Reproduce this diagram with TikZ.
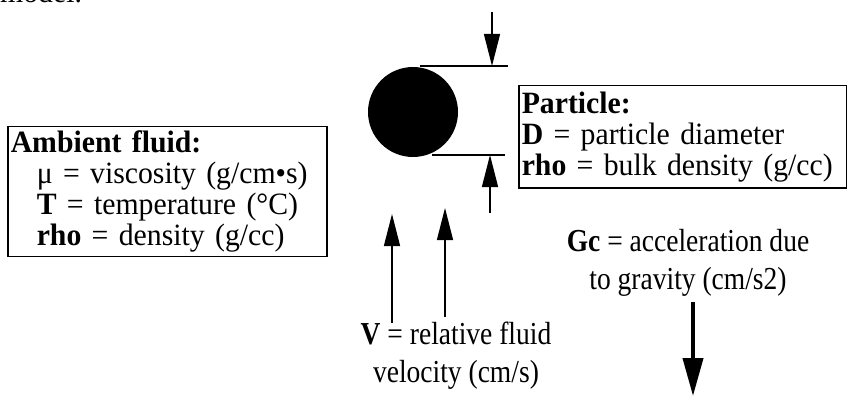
\documentclass[tikz,border=0pt]{standalone}
\usepackage{fontspec}
\setmainfont[FakeStretch=0.96]{Liberation Serif}
\newfontfamily\labfont[FakeStretch=0.86]{Liberation Serif}
\usetikzlibrary{arrows.meta}
\tikzstyle{infobox} = [rectangle, draw=black, line width=1.5pt, anchor=north west, align=left, inner xsep=3pt, inner ysep=3pt]
\tikzstyle{note} = [align=center, inner sep=0pt, font=\labfont\fontsize{32}{38}\selectfont]
\tikzstyle{thinarrow} = [line width=1.3pt, -{Triangle[length=32pt,width=16pt]}]
\tikzstyle{fatarrow} = [line width=4pt, -{Triangle[length=38pt,width=20pt]}]
\tikzstyle{dimline} = [line width=1.3pt]

\begin{document}
\begin{tikzpicture}[x=1pt, y=-1pt, font=\fontsize{31}{31}\selectfont]
      \useasboundingbox (0,0) rectangle (847,396);
      \clip (0,0) rectangle (847,396);
      % line of the page above, cut off
      \node (cut)[anchor=base west, inner sep=0pt] at (0,3) {model.};
      \node (ball)[circle, fill=black, minimum size=90pt, inner sep=0pt] at (413,112) {};
      \node (amb)[infobox, text width=313pt, inner ysep=4pt] at (7,126) {\textbf{Ambient fluid:}\\\hspace*{26pt}μ = viscosity (g/cm•s)\\\hspace*{26pt}\textbf{T} = temperature (°C)\\\hspace*{26pt}\textbf{rho} = density (g/cc)};
      \node (part)[infobox, text width=322pt, inner ysep=6pt] at (518,85) {\textbf{Particle:}\\\textbf{D} = particle diameter\\\textbf{rho} = bulk density (g/cc)};
      \node (vlab)[note] at (456,356) {\textbf{V} = relative fluid\\velocity (cm/s)};
      \node (gclab)[note] at (688,263) {\textbf{Gc} = acceleration due\\to gravity (cm/s2)};
      \coordinate (dtop1) at (420,66);
      \coordinate (dtop2) at (508,66);
      \coordinate (dbot1) at (432,155);
      \coordinate (dbot2) at (505,155);
      \coordinate (atop) at (492,12);
      \coordinate (abot) at (490,213);
      \coordinate (v1) at (392,323);
      \coordinate (v2) at (445,317);
      \coordinate (g0) at (693,302);
      \coordinate (g1) at (693,396);
      \draw [dimline](dtop1)--(dtop2);
      \draw [dimline](dbot1)--(dbot2);
      \draw [thinarrow](atop)--(atop |- dtop1);
      \draw [thinarrow](abot)--(abot |- dbot1);
      \draw [thinarrow](v1)--++(0,-109);
      \draw [thinarrow](v2)--++(0,-109);
      \draw [fatarrow](g0)--(g1);
\end{tikzpicture}
\end{document}
